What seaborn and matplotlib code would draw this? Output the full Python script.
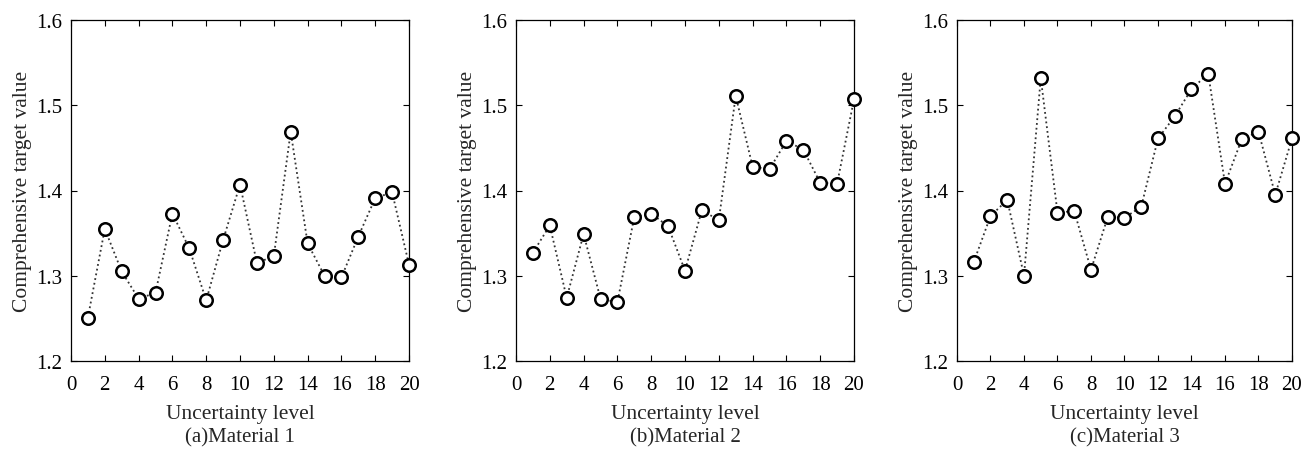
import numpy as np
import pandas as pd
import matplotlib
matplotlib.use("Agg")
import matplotlib.pyplot as plt
import seaborn as sns

levels = list(range(1, 21))
material1 = [1.251, 1.355, 1.305, 1.273, 1.280, 1.373, 1.332, 1.271, 1.342, 1.407,
             1.315, 1.323, 1.469, 1.338, 1.300, 1.298, 1.346, 1.391, 1.398, 1.313]
material2 = [1.327, 1.359, 1.274, 1.349, 1.273, 1.269, 1.369, 1.373, 1.358, 1.306,
             1.377, 1.365, 1.511, 1.428, 1.425, 1.458, 1.448, 1.409, 1.408, 1.507]
material3 = [1.316, 1.370, 1.389, 1.300, 1.532, 1.374, 1.376, 1.307, 1.369, 1.368,
             1.381, 1.461, 1.487, 1.519, 1.537, 1.408, 1.460, 1.469, 1.395, 1.461]
captions = ["(a)Material 1", "(b)Material 2", "(c)Material 3"]
xticks = list(range(0, 21, 2))
yticks = [1.2, 1.3, 1.4, 1.5, 1.6]

sns.set_style("ticks")
plt.rcParams['font.family'] = ['Liberation Serif', 'DejaVu Serif']
plt.rcParams['xtick.direction'] = 'in'
plt.rcParams['ytick.direction'] = 'in'

fig = plt.figure(figsize=(13.12, 4.52), dpi=100)
W, H = 1312, 452
lefts = [71, 516, 957]
rights = [409, 854, 1292]
top, bottom = 21, 362

for i, (vals, cap) in enumerate(zip([material1, material2, material3], captions)):
    ax = fig.add_axes([lefts[i] / W, 1 - bottom / H, (rights[i] - lefts[i]) / W, (bottom - top) / H])
    df = pd.DataFrame({"level": levels, "value": vals})
    sns.lineplot(data=df, x="level", y="value", ax=ax, color="#333333", linestyle=":",
                 linewidth=1.3, marker="o", markersize=9, markerfacecolor="white",
                 markeredgecolor="black", markeredgewidth=1.8, clip_on=False, zorder=5)
    ax.set_xlim(0, 20)
    ax.set_ylim(1.2, 1.6)
    ax.set_xticks(xticks)
    ax.set_yticks(yticks)
    ax.set_yticklabels([f"{v:.1f}" for v in yticks])
    ax.tick_params(axis="both", which="both", direction="in", top=True, right=True,
                   labelsize=15, length=4, width=0.8, colors="black")
    ax.tick_params(axis="x", pad=10)
    ax.tick_params(axis="y", pad=6)
    for s in ax.spines.values():
        s.set_visible(True)
        s.set_linewidth(0.9)
        s.set_color("black")
    ax.set_xlabel("Uncertainty level", fontsize=15.5, labelpad=7)
    ax.set_ylabel("Comprehensive target value", fontsize=15.5, labelpad=3)
    ax.text(0.5, -0.195, cap, transform=ax.transAxes, ha="center", va="top", fontsize=15)

fig.savefig("out.png", dpi=100)
